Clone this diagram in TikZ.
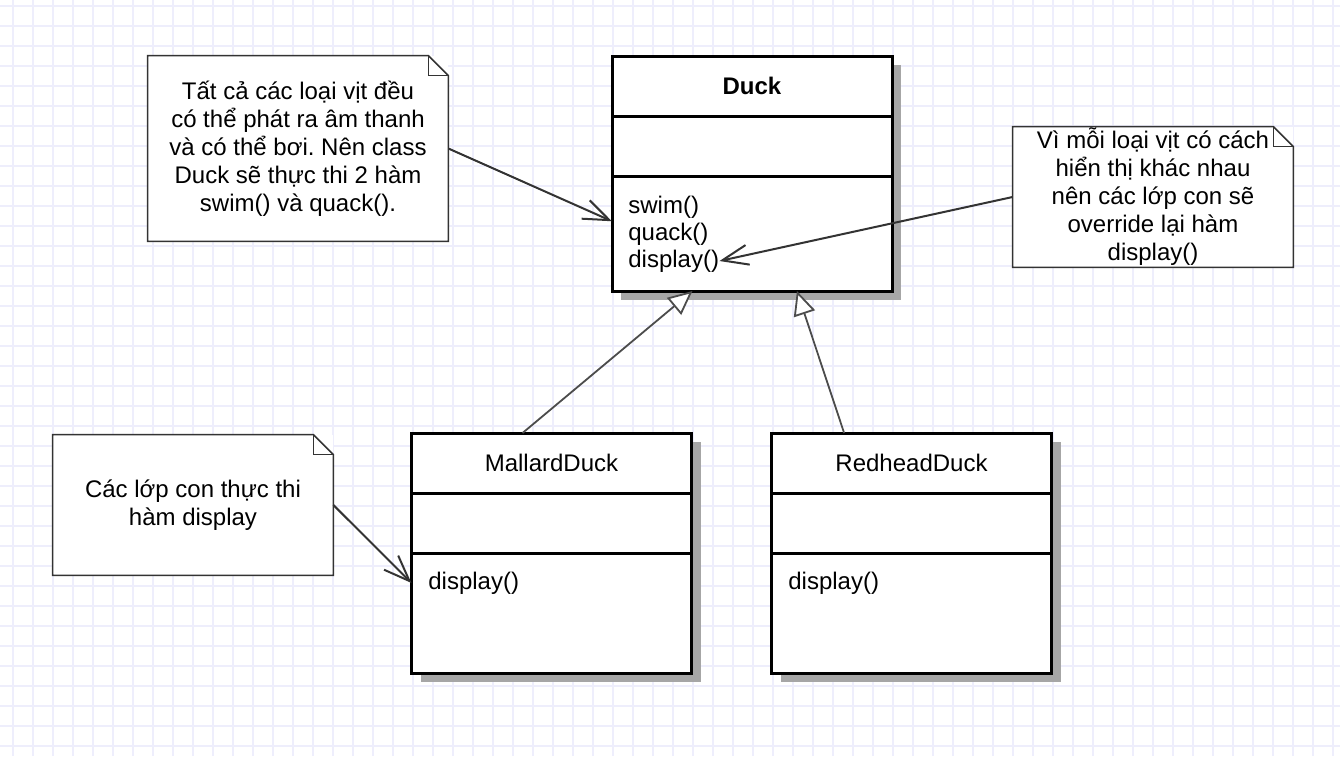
\documentclass[tikz,border=0pt]{standalone}
\usepackage{fontspec}
\setmainfont{Liberation Sans}
\usetikzlibrary{positioning, arrows.meta, shadows}
\definecolor{gridblue}{RGB}{238,238,252}
\frenchspacing

\begin{document}
\begin{tikzpicture}[x=0.5pt, y=-0.5pt, font=\fontsize{12}{14}\selectfont]
\tikzstyle{gridline} = [draw=gridblue, line width=0.8pt]
\tikzstyle{classbox} = [rectangle, draw=black, line width=1.5pt, fill=white, outer sep=0pt, minimum width=140pt, minimum height=30pt, text centered, drop shadow={shadow xshift=4.5pt, shadow yshift=-4.5pt, fill=black!35, opacity=1}]
\tikzstyle{method} = [anchor=west, inner sep=0pt]
\tikzstyle{note} = [rectangle, fill=white, minimum width=140pt, minimum height=70pt, inner sep=0pt, align=center]
\tikzstyle{noteline} = [draw=black!80, line width=0.8pt, line join=miter]
\tikzstyle{notearrow} = [draw=black!80, line width=1pt, -{Straight Barb[length=13pt, width=10pt]}]
\tikzstyle{inherit} = [draw=black!70, line width=0.9pt, -{Triangle[open, length=12pt, width=11pt, fill=white]}]

\useasboundingbox (0,0) rectangle (1340,756);
\fill [white] (0,0) rectangle (1340,756);
\foreach \x in {13,33,...,1333} \draw [gridline] (\x,0) -- (\x,756);
\foreach \y in {6,26,...,746} \draw [gridline] (0,\y) -- (1340,\y);

\node (duckname) [classbox] at (752,86) {\textbf{Duck}};
\node (duckattr) [classbox, below=0pt of duckname] {};
\node (duckops) [classbox, minimum height=57.5pt, below=0pt of duckattr] {};
\node (duckswim) [method] at (628,207) {swim()};
\node (duckquack) [method] at (628,234) {quack()};
\node (duckdisp) [method] at (628,261) {display()};

\node (mallardname) [classbox] at (551.5,463) {MallardDuck};
\node (mallardattr) [classbox, below=0pt of mallardname] {};
\node (mallardops) [classbox, minimum height=60pt, below=0pt of mallardattr] {};
\node (mallarddisp) [method] at (428,583) {display()};

\node (redheadname) [classbox] at (911.5,463) {RedheadDuck};
\node (redheadattr) [classbox, below=0pt of redheadname] {};
\node (redheadops) [classbox, minimum height=60pt, below=0pt of redheadattr] {};
\node (redheaddisp) [method] at (788,583) {display()};

\node (n1) [note, minimum width=150pt, minimum height=92.5pt] at (298,148.5) {Tất cả các loại vịt đều\\có thể phát ra âm thanh\\và có thể bơi. Nên class\\Duck sẽ thực thi 2 hàm\\swim() và quack().};
\node (n2) [note] at (1153,197) {Vì mỗi loại vịt có cách\\hiển thị khác nhau\\nên các lớp con sẽ\\override lại hàm\\display()};
\node (n3) [note] at (193,505) {Các lớp con thực thi\\hàm display};

\foreach \n in {n1,n2,n3} {
  \draw [noteline] (\n.south west) -- (\n.north west) -- ([xshift=-10pt]\n.north east) -- ([yshift=-10pt]\n.north east) -- (\n.south east) -- cycle;
  \draw [noteline] ([xshift=-10pt]\n.north east) -- ([xshift=-10pt, yshift=-10pt]\n.north east) -- ([yshift=-10pt]\n.north east);
}

\draw [notearrow] (n1.east) -- (duckops.175);
\draw [notearrow] (n2.west) -- (duckdisp.east);
\draw [notearrow] (n3.east) -- (mallardops.west |- mallarddisp);
\draw [inherit] (mallardname.134.5) -- (duckops.224);
\draw [inherit] (redheadname.156) -- (duckops.-52);
\end{tikzpicture}
\end{document}
